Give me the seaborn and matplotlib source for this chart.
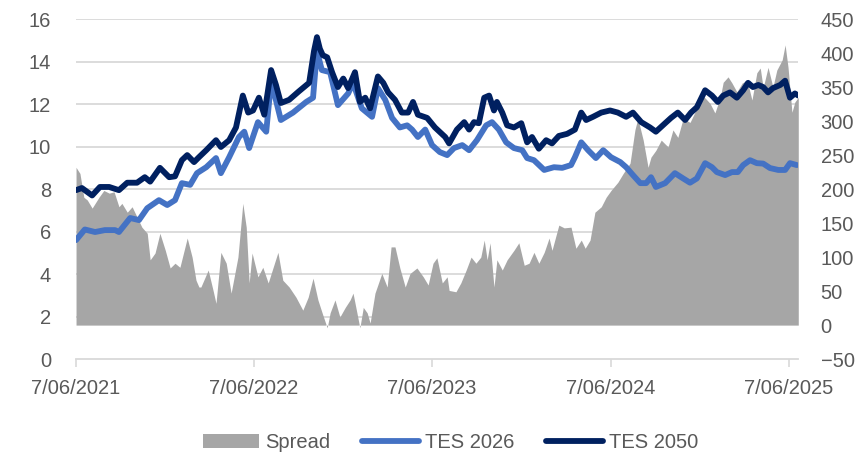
import numpy as np
import pandas as pd
import matplotlib
matplotlib.use("Agg")
import matplotlib.pyplot as plt
import seaborn as sns
from matplotlib.patches import Patch
from matplotlib.lines import Line2D

# ---------------- data ----------------
start_date = "2021-06-07"

days_2050 = [0, 12, 33, 49, 68, 88, 105, 125, 141, 152, 172, 191, 203, 217, 228, 242, 252, 267, 287, 297,
             314, 328, 342, 353, 363, 375, 386, 400, 410, 420, 437, 457, 478, 488, 494, 500, 506, 515, 525, 537,
             548, 558, 572, 582, 593, 603, 619, 630, 640, 654, 668, 681, 691, 701, 720, 736, 757, 765, 781, 796,
             806, 816, 826, 837, 847, 857, 863, 874, 884, 898, 913, 925, 935, 949, 964, 976, 990, 1007, 1023, 1036,
             1046, 1060, 1077, 1095, 1111, 1128, 1142, 1159, 1177, 1189, 1208, 1220, 1234, 1249, 1261, 1273, 1290,
             1304, 1316, 1327, 1341, 1355, 1368, 1378, 1388, 1399, 1409, 1419, 1429, 1444, 1454, 1464, 1474, 1481]
tes_2050 = [7.95, 8.05, 7.7, 8.1, 8.1, 7.95, 8.3, 8.3, 8.56, 8.35, 9.0, 8.56, 8.6, 9.36, 9.6, 9.27, 9.5, 9.83, 10.3, 9.98,
            10.3, 10.9, 12.4, 11.6, 11.7, 12.3, 11.5, 13.6, 12.9, 12.05, 12.2, 12.6, 13.0, 14.5, 15.15, 14.6, 14.3, 14.2, 13.5, 12.8,
            13.2, 12.75, 13.5, 12.1, 12.3, 11.8, 13.3, 13.0, 12.55, 12.2, 11.6, 11.6, 12.1, 11.5, 11.35, 10.9, 10.45, 10.15, 10.8, 11.15,
            10.8, 11.15, 11.1, 12.3, 12.4, 11.7, 12.1, 11.6, 11.0, 10.9, 11.1, 10.2, 10.45, 9.9, 10.3, 10.15, 10.5, 10.6, 10.8, 11.6,
            11.25, 11.4, 11.6, 11.7, 11.6, 11.4, 11.6, 11.15, 10.9, 10.7, 11.1, 11.35, 11.6, 11.25, 11.6, 11.85, 12.65,
            12.4, 12.1, 12.4, 12.55, 12.3, 12.65, 13.0, 12.8, 12.9, 12.8, 12.55, 12.75, 12.9, 13.1, 12.3, 12.5, 12.4]

days_2026 = [0, 18, 39, 59, 80, 88, 111, 129, 146, 170, 187, 203, 217, 234, 248, 267, 287, 297, 314, 334,
             345, 355, 373, 390, 400, 420, 445, 472, 486, 494, 504, 521, 537, 558, 568, 586, 607, 619, 634, 648,
             664, 679, 689, 701, 716, 730, 746, 761, 775, 792, 806, 822, 841, 853, 867, 882, 898, 915, 925, 939,
             960, 980, 997, 1015, 1023, 1036, 1050, 1066, 1081, 1097, 1116, 1128, 1142, 1157, 1169, 1179, 1189, 1208,
             1228, 1245, 1259, 1273, 1290, 1304, 1314, 1331, 1345, 1357, 1368, 1382, 1396, 1409, 1423, 1440, 1454,
             1464, 1478]
tes_2026 = [5.6, 6.1, 5.98, 6.07, 6.07, 5.98, 6.64, 6.54, 7.1, 7.48, 7.25, 7.48, 8.28, 8.2, 8.75, 9.03, 9.46, 8.75, 9.5, 10.45,
            10.7, 9.93, 11.15, 10.7, 13.1, 11.25, 11.6, 12.1, 12.3, 14.5, 13.6, 13.5, 11.95, 12.5, 13.0, 11.8, 11.4, 12.75, 12.2, 11.35,
            10.9, 11.0, 10.8, 10.45, 10.8, 10.07, 9.74, 9.6, 9.93, 10.07, 9.83, 10.3, 11.0, 11.15, 10.8, 10.2, 9.93, 9.83, 9.46, 9.36,
            8.9, 9.03, 9.0, 9.13, 9.5, 10.2, 9.83, 9.46, 9.83, 9.5, 9.27, 9.03, 8.66, 8.28, 8.28, 8.56, 8.1, 8.28,
            8.75, 8.5, 8.3, 8.5, 9.22, 9.03, 8.8, 8.66, 8.8, 8.8, 9.13, 9.36, 9.22, 9.2, 8.99, 8.9, 8.9,
            9.22, 9.13]

days_spread = [0, 8, 16, 23, 33, 47, 57, 68, 78, 88, 94, 105, 115, 125, 135, 146, 152, 162, 172, 183,
               193, 203, 213, 228, 238, 246, 252, 256, 271, 281, 287, 297, 308, 318, 332, 342, 349, 355, 361, 373,
               383, 394, 414, 424, 437, 451, 465, 476, 486, 496, 506, 515, 521, 531, 541, 552, 562, 568, 576, 582,
               589, 597, 603, 613, 627, 638, 646, 654, 664, 675, 685, 699, 712, 722, 732, 740, 751, 761, 765, 779,
               789, 800, 810, 820, 830, 837, 843, 849, 857, 863, 874, 884, 898, 908, 919, 929, 939, 949, 960, 970,
               976, 990, 1001, 1015, 1025, 1036, 1044, 1054, 1064, 1077, 1087, 1097, 1111, 1122, 1136, 1146, 1152,
               1163, 1173, 1179, 1189, 1200, 1214, 1224, 1234, 1245, 1259, 1269, 1279, 1290, 1300, 1310, 1321, 1327,
               1337, 1345, 1355, 1366, 1376, 1386, 1396, 1403, 1409, 1419, 1429, 1437, 1448, 1454, 1460, 1468, 1474, 1481]
spread = [232, 223, 188, 184, 172, 188, 198, 194, 196, 174, 179, 166, 174, 159, 144, 135, 96, 106, 135, 110,
          84, 91, 85, 128, 100, 66, 56, 56, 81, 51, 32, 107, 91, 47, 100, 179, 144, 62, 106, 71,
          85, 62, 107, 66, 56, 41, 22, 41, 69, 37, 15, -4, 18, 37, 12, 26, 37, 47, 18, -4,
          26, 18, 3, 47, 76, 56, 115, 115, 84, 56, 76, 84, 71, 59, 91, 99, 62, 71, 51, 49,
          62, 81, 100, 91, 100, 125, 96, 121, 56, 96, 81, 96, 110, 121, 88, 91, 107, 91, 107, 128,
          110, 147, 143, 144, 113, 125, 113, 125, 166, 174, 188, 198, 210, 223, 238, 287, 304,
          272, 232, 247, 257, 272, 262, 287, 276, 304, 298, 313, 338, 334, 326, 312, 335, 357,
          365, 356, 343, 356, 360, 331, 371, 378, 349, 379, 350, 375, 390, 412, 379, 313, 328, 335]

tick_dates = ["2021-06-07", "2022-06-07", "2023-06-07", "2024-06-07", "2025-06-07"]
tick_labels = ["7/06/2021", "7/06/2022", "7/06/2023", "7/06/2024", "7/06/2025"]
left_ticks = [0, 2, 4, 6, 8, 10, 12, 14, 16]
right_ticks = [-50, 0, 50, 100, 150, 200, 250, 300, 350, 400, 450]
series_names = ["Spread", "TES 2026", "TES 2050"]

# ---------------- styling ----------------
sns.set_theme(style="white")
plt.rcParams["font.family"] = ["Liberation Sans", "DejaVu Sans"]

C_SPREAD = "#A6A6A6"
C_2026 = "#4472C4"
C_2050 = "#002060"
C_GRID = "#D9D9D9"
C_TEXT = "#595959"
LW = 4.2
FS = 14.5

start = pd.Timestamp(start_date)
d2050 = pd.DataFrame({"date": start + pd.to_timedelta(days_2050, unit="D"), "v": tes_2050})
d2026 = pd.DataFrame({"date": start + pd.to_timedelta(days_2026, unit="D"), "v": tes_2026})
dspr = pd.DataFrame({"date": start + pd.to_timedelta(days_spread, unit="D"), "v": spread})

fig = plt.figure(figsize=(8.66, 4.54), dpi=100)
ax = fig.add_axes([0.0878, 0.209, 0.834, 0.749])
ax2 = ax.twinx()
ax.set_zorder(ax2.get_zorder() + 1)
ax.patch.set_visible(False)

# spread area on the right axis
ax2.set_ylim(right_ticks[0], right_ticks[-1])
ax2.fill_between(dspr["date"], dspr["v"], 0, color=C_SPREAD, lw=0, zorder=2)

# horizontal gridlines (aligned with left ticks) drawn beneath the area
for v in left_ticks[1:]:
    yv = right_ticks[0] + (v - left_ticks[0]) * (right_ticks[-1] - right_ticks[0]) / (left_ticks[-1] - left_ticks[0])
    ax2.axhline(yv, color=C_GRID, lw=1.3, zorder=0)

# lines on the left axis
sns.lineplot(data=d2026, x="date", y="v", ax=ax, color=C_2026, lw=LW, legend=False,
             solid_joinstyle="round", solid_capstyle="round")
sns.lineplot(data=d2050, x="date", y="v", ax=ax, color=C_2050, lw=LW, legend=False,
             solid_joinstyle="round", solid_capstyle="round")

ax.set_ylim(left_ticks[0], left_ticks[-1])
ax.set_yticks(left_ticks)
ax2.set_yticks(right_ticks)
ax.set_xlim(start, start + pd.Timedelta(days=days_2050[-1]))
ax.set_xticks(pd.to_datetime(tick_dates))
ax.set_xticklabels(tick_labels)
ax.set_xlabel("")
ax.set_ylabel("")
ax2.set_ylabel("")

for a in (ax, ax2):
    for s in ("top", "left", "right", "bottom"):
        a.spines[s].set_visible(False)
ax.spines["bottom"].set_visible(True)
ax.spines["bottom"].set_color(C_GRID)
ax.spines["bottom"].set_linewidth(1.3)

ax.tick_params(axis="x", length=6, width=1.2, color=C_GRID, pad=8, labelsize=FS, labelcolor=C_TEXT, bottom=True)
ax.tick_params(axis="y", length=0, pad=18, labelsize=FS, labelcolor=C_TEXT)
ax2.tick_params(axis="y", length=0, pad=16, labelsize=FS, labelcolor=C_TEXT)

handles = [Patch(facecolor=C_SPREAD, edgecolor="none"),
           Line2D([0], [0], color=C_2026, lw=LW),
           Line2D([0], [0], color=C_2050, lw=LW)]
leg = fig.legend(handles, series_names, loc="lower center", bbox_to_anchor=(0.52, -0.035), ncol=3,
                 frameon=False, fontsize=FS, handlelength=2.8, handletextpad=0.3, columnspacing=1.6)
for t in leg.get_texts():
    t.set_color(C_TEXT)

fig.savefig("out.png", dpi=100)
